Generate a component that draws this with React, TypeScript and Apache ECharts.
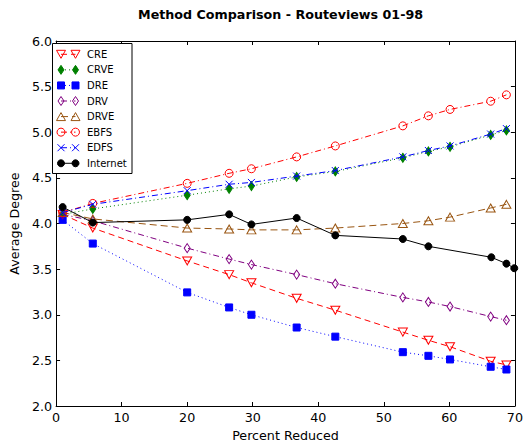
import React, { useEffect, useRef } from "react";
import * as echarts from "echarts";

// x positions (percent reduced)
const xMethods = [1, 5.6, 20, 26.4, 29.8, 36.7, 42.6, 52.9, 56.8, 60.1, 66.3, 68.7];
const xInternet = [1, 5.6, 20, 26.4, 29.8, 36.7, 42.6, 52.9, 56.8, 66.4, 68.7, 69.9];

// average degree values
const creValues = [4.1, 3.95, 3.59, 3.44, 3.35, 3.18, 3.05, 2.81, 2.72, 2.65, 2.49, 2.45];
const crveValues = [4.1, 4.16, 4.31, 4.38, 4.41, 4.51, 4.57, 4.72, 4.79, 4.84, 4.97, 5.02];
const dreValues = [4.04, 3.78, 3.245, 3.08, 3.0, 2.86, 2.76, 2.59, 2.55, 2.51, 2.43, 2.4];
const drvValues = [4.1, 4.03, 3.73, 3.61, 3.55, 3.44, 3.34, 3.19, 3.14, 3.09, 2.98, 2.94];
const drveValues = [4.12, 4.05, 3.95, 3.94, 3.93, 3.93, 3.95, 4.0, 4.03, 4.07, 4.17, 4.21];
const ebfsValues = [4.12, 4.22, 4.44, 4.55, 4.6, 4.73, 4.85, 5.07, 5.18, 5.25, 5.34, 5.41];
const edfsValues = [4.12, 4.21, 4.36, 4.43, 4.45, 4.52, 4.58, 4.73, 4.8, 4.85, 4.98, 5.04];
const internetValues = [4.18, 4.01, 4.04, 4.1, 3.99, 4.06, 3.87, 3.83, 3.75, 3.63, 3.56, 3.51];

const seriesNames = ["CRE", "CRVE", "DRE", "DRV", "DRVE", "EBFS", "EDFS", "Internet"];

const TITLE = "Method Comparison - Routeviews 01-98";
const X_NAME = "Percent Reduced";
const Y_NAME = "Average Degree";

const FONT = "'DejaVu Sans', sans-serif";
const FS = 12.7;

type Kind = "triDown" | "triUp" | "thinDiamond" | "square" | "circle" | "x" | "dot";

const styles: { color: string; dash: number[] | "solid"; kind: Kind; filled: boolean }[] = [
  { color: "#ff0000", dash: [6, 4], kind: "triDown", filled: false },
  { color: "#008000", dash: [1, 3], kind: "thinDiamond", filled: true },
  { color: "#0000ff", dash: [1, 3], kind: "square", filled: true },
  { color: "#800080", dash: [6, 3, 1, 3], kind: "thinDiamond", filled: false },
  { color: "#995511", dash: [7, 4], kind: "triUp", filled: false },
  { color: "#ff0000", dash: [6, 3, 1, 3], kind: "circle", filled: false },
  { color: "#0000ff", dash: [6, 3, 1, 3], kind: "x", filled: false },
  { color: "#000000", dash: "solid", kind: "dot", filled: true },
];

const seriesX = [xMethods, xMethods, xMethods, xMethods, xMethods, xMethods, xMethods, xInternet];
const seriesY = [creValues, crveValues, dreValues, drvValues, drveValues, ebfsValues, edfsValues, internetValues];

function symbolFor(kind: Kind) {
  switch (kind) {
    case "triDown":
      return { symbol: "triangle", symbolSize: [9, 8], symbolRotate: 180 };
    case "triUp":
      return { symbol: "triangle", symbolSize: [9, 8], symbolRotate: 0 };
    case "thinDiamond":
      return { symbol: "diamond", symbolSize: [6, 9], symbolRotate: 0 };
    case "square":
      return { symbol: "rect", symbolSize: 7, symbolRotate: 0 };
    case "circle":
      return { symbol: "circle", symbolSize: 8, symbolRotate: 0 };
    case "x":
      return { symbol: "path://M0 0L10 10M10 0L0 10", symbolSize: 7, symbolRotate: 0 };
    default:
      return { symbol: "circle", symbolSize: 7, symbolRotate: 0 };
  }
}

function legendMarker(kind: Kind, cx: number, cy: number, color: string, filled: boolean): any[] {
  const st = { fill: filled ? color : "none", stroke: color, lineWidth: 1 };
  switch (kind) {
    case "triDown":
      return [{ type: "polygon", shape: { points: [[cx - 4.5, cy - 4], [cx + 4.5, cy - 4], [cx, cy + 4]] }, style: st }];
    case "triUp":
      return [{ type: "polygon", shape: { points: [[cx - 4.5, cy + 4], [cx + 4.5, cy + 4], [cx, cy - 4]] }, style: st }];
    case "thinDiamond":
      return [{ type: "polygon", shape: { points: [[cx, cy - 4.5], [cx + 3, cy], [cx, cy + 4.5], [cx - 3, cy]] }, style: st }];
    case "square":
      return [{ type: "rect", shape: { x: cx - 3.5, y: cy - 3.5, width: 7, height: 7 }, style: st }];
    case "circle":
      return [{ type: "circle", shape: { cx, cy, r: 4 }, style: st }];
    case "x":
      return [
        { type: "line", shape: { x1: cx - 3.5, y1: cy - 3.5, x2: cx + 3.5, y2: cy + 3.5 }, style: { stroke: color, lineWidth: 1 } },
        { type: "line", shape: { x1: cx + 3.5, y1: cy - 3.5, x2: cx - 3.5, y2: cy + 3.5 }, style: { stroke: color, lineWidth: 1 } },
      ];
    default:
      return [{ type: "circle", shape: { cx, cy, r: 3.5 }, style: st }];
  }
}

export default function App() {
  const ref = useRef<HTMLDivElement>(null);

  useEffect(() => {
    if (!ref.current) return;
    document.body.style.margin = "0";
    const chart = echarts.init(ref.current, undefined, { renderer: "svg" });

    const series = seriesNames.map((name, i) => {
      const s = styles[i];
      const sym = symbolFor(s.kind);
      return {
        name,
        type: "line",
        data: seriesX[i].map((x, j) => [x, seriesY[i][j]]),
        xAxisIndex: 0,
        yAxisIndex: 0,
        symbol: sym.symbol,
        symbolSize: sym.symbolSize,
        symbolRotate: sym.symbolRotate,
        showAllSymbol: true,
        clip: false,
        lineStyle: { color: s.color, width: 1, type: s.dash },
        itemStyle: {
          color: s.filled ? s.color : "none",
          borderColor: s.color,
          borderWidth: 1,
        },
        emphasis: { disabled: true },
        z: 2 + i,
      };
    });

    // legend drawn as graphic: marker - line - marker
    const legendX = 52.5;
    const legendY = 43.5;
    const legendElems: any[] = [
      {
        type: "rect",
        shape: { x: legendX, y: legendY, width: 79.5, height: 130 },
        style: { fill: "#fff", stroke: "#000", lineWidth: 1 },
        z: 100,
      },
    ];
    seriesNames.forEach((name, i) => {
      const s = styles[i];
      const cy = 54.3 + i * 15.57;
      const x1 = 61;
      const x2 = 75.5;
      legendElems.push({
        type: "line",
        shape: { x1, y1: cy, x2, y2: cy },
        style: { stroke: s.color, lineWidth: 1, lineDash: s.dash === "solid" ? null : s.dash },
        z: 101,
      });
      legendMarker(s.kind, x1, cy, s.color, s.filled).forEach((e) => legendElems.push({ ...e, z: 102 }));
      legendMarker(s.kind, x2, cy, s.color, s.filled).forEach((e) => legendElems.push({ ...e, z: 102 }));
      legendElems.push({
        type: "text",
        x: 87,
        y: cy,
        z: 102,
        style: { text: name, fill: "#000", font: `10px ${FONT}`, verticalAlign: "middle", align: "left" },
      });
    });

    const axisCommon = {
      axisLine: { show: true, onZero: false, lineStyle: { color: "#000", width: 1 } },
      axisTick: { show: true, inside: true, length: 4, lineStyle: { color: "#000", width: 1 } },
      splitLine: { show: false },
    };

    chart.setOption({
      animation: false,
      backgroundColor: "#fff",
      title: {
        text: TITLE,
        left: 133,
        top: 3,
        textStyle: { fontFamily: FONT, fontSize: FS, fontWeight: "bold", color: "#000" },
      },
      grid: { left: 48, right: 7, top: 41, bottom: 41, containLabel: false },
      xAxis: [
        {
          type: "value",
          position: "bottom",
          min: 0,
          max: 70,
          interval: 10,
          ...axisCommon,
          axisLabel: { show: true, fontFamily: FONT, fontSize: FS, color: "#000", margin: 5 },
          name: X_NAME,
          nameLocation: "middle",
          nameGap: 20,
          nameTextStyle: { fontFamily: FONT, fontSize: FS, color: "#000" },
        },
        {
          type: "value",
          position: "top",
          min: 0,
          max: 70,
          interval: 10,
          ...axisCommon,
          axisLabel: { show: false },
        },
      ],
      yAxis: [
        {
          type: "value",
          position: "left",
          min: 2,
          max: 6,
          interval: 0.5,
          ...axisCommon,
          axisLabel: {
            show: true,
            fontFamily: FONT,
            fontSize: FS,
            color: "#000",
            margin: 4,
            formatter: (v: number) => v.toFixed(1),
          },
          name: Y_NAME,
          nameLocation: "middle",
          nameGap: 27,
          nameTextStyle: { fontFamily: FONT, fontSize: FS, color: "#000" },
        },
        {
          type: "value",
          position: "right",
          min: 2,
          max: 6,
          interval: 0.5,
          ...axisCommon,
          axisLabel: { show: false },
        },
      ],
      series,
      graphic: { elements: legendElems },
    });

    return () => chart.dispose();
  }, []);

  return <div ref={ref} style={{ width: 526, height: 447, position: "fixed", left: 0, top: 0 }} />;
}
